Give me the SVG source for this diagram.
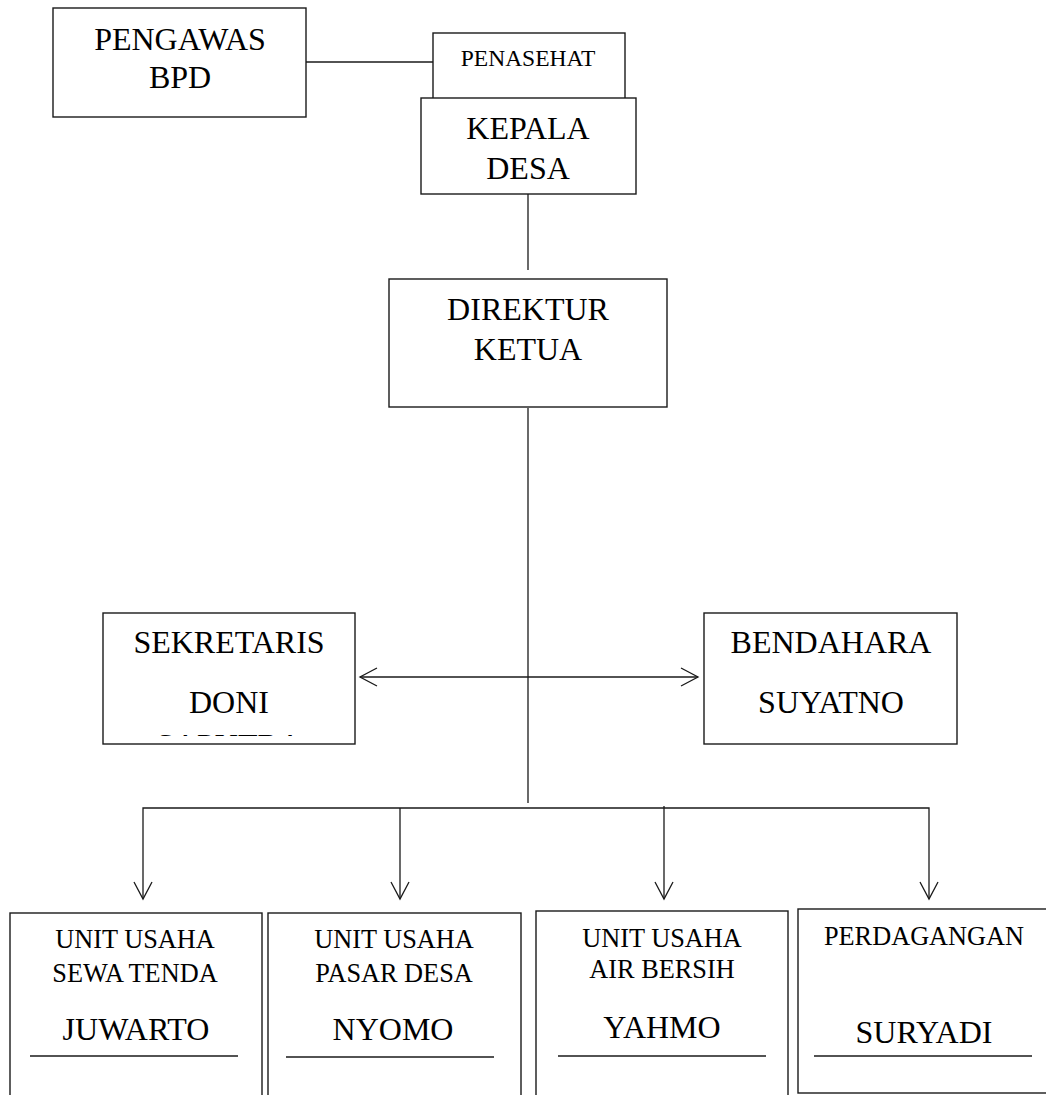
<svg xmlns="http://www.w3.org/2000/svg" width="1046" height="1095" viewBox="0 0 1046 1095">
<style>
.box{fill:#fff;stroke:#1a1a1a;stroke-width:1.4}
.ln{fill:none;stroke:#1a1a1a;stroke-width:1.3}
text{font-family:"Liberation Serif","Times New Roman",serif;fill:#000;text-anchor:middle}
.big{font-size:32px}
.mid{font-size:26.3px}
.sm{font-size:23.5px}
</style>
<defs>
<marker id="ah" viewBox="0 0 20 20" refX="18" refY="10" markerWidth="20" markerHeight="20" markerUnits="userSpaceOnUse" orient="auto-start-reverse">
<path d="M1,1 L18,10 L1,19" fill="none" stroke="#1a1a1a" stroke-width="1.3"/>
</marker>
<clipPath id="clipSek"><rect x="103" y="613" width="252" height="123"/></clipPath>
</defs>
<rect width="1046" height="1095" fill="#fff"/>
<g id="connectors">
<line class="ln" x1="306" y1="62" x2="433" y2="62"/>
<line class="ln" x1="528" y1="194" x2="528" y2="270"/>
<line class="ln" x1="528" y1="408" x2="528" y2="803"/>
<line class="ln" x1="360" y1="677" x2="698" y2="677" marker-start="url(#ah)" marker-end="url(#ah)"/>
<polyline class="ln" points="143,899 143,808 929,808 929,899" marker-start="url(#ah)" marker-end="url(#ah)"/>
<line class="ln" x1="400" y1="808" x2="400" y2="899" marker-end="url(#ah)"/>
<line class="ln" x1="664" y1="806" x2="664" y2="899" marker-end="url(#ah)"/>
</g>
<g id="pengawas">
<rect class="box" x="53" y="8" width="253" height="109"/>
<text class="big" x="180" y="50">PENGAWAS</text>
<text class="big" x="180" y="88">BPD</text>
</g>
<g id="penasehat">
<rect class="box" x="433" y="33" width="192" height="69"/>
<text class="sm" x="528" y="66">PENASEHAT</text>
</g>
<g id="kepala-desa">
<rect class="box" x="421" y="98" width="215" height="96"/>
<text class="big" x="528" y="139">KEPALA</text>
<text class="big" x="528" y="179">DESA</text>
</g>
<g id="direktur">
<rect class="box" x="389" y="279" width="278" height="128"/>
<text class="big" x="528" y="320">DIREKTUR</text>
<text class="big" x="528" y="360">KETUA</text>
</g>
<g id="sekretaris">
<rect class="box" x="103" y="613" width="252" height="131"/>
<text class="big" x="229" y="653">SEKRETARIS</text>
<text class="big" x="229" y="713">DONI</text>
<text class="big" x="229" y="756" clip-path="url(#clipSek)">SAPUTRA</text>
</g>
<g id="bendahara">
<rect class="box" x="704" y="613" width="253" height="131"/>
<text class="big" x="831" y="653">BENDAHARA</text>
<text class="big" x="831" y="713">SUYATNO</text>
</g>
<g id="unit-sewa-tenda">
<rect class="box" x="10" y="913" width="252" height="190"/>
<text class="mid" x="135" y="948">UNIT USAHA</text>
<text class="mid" x="135" y="982">SEWA TENDA</text>
<text class="big" x="136" y="1040">JUWARTO</text>
<line class="ln" x1="30" y1="1056" x2="238" y2="1056"/>
</g>
<g id="unit-pasar-desa">
<rect class="box" x="268" y="913" width="253" height="190"/>
<text class="mid" x="394" y="948">UNIT USAHA</text>
<text class="mid" x="394" y="982">PASAR DESA</text>
<text class="big" x="393" y="1040">NYOMO</text>
<line class="ln" x1="286" y1="1057" x2="494" y2="1057"/>
</g>
<g id="unit-air-bersih">
<rect class="box" x="536" y="911" width="252" height="192"/>
<text class="mid" x="662" y="947">UNIT USAHA</text>
<text class="mid" x="662" y="978">AIR BERSIH</text>
<text class="big" x="662" y="1038">YAHMO</text>
<line class="ln" x1="558" y1="1056" x2="766" y2="1056"/>
</g>
<g id="perdagangan">
<rect class="box" x="798" y="909" width="254" height="184"/>
<text class="mid" x="924" y="945">PERDAGANGAN</text>
<text class="big" x="924" y="1043">SURYADI</text>
<line class="ln" x1="814" y1="1056" x2="1032" y2="1056"/>
</g>
</svg>
